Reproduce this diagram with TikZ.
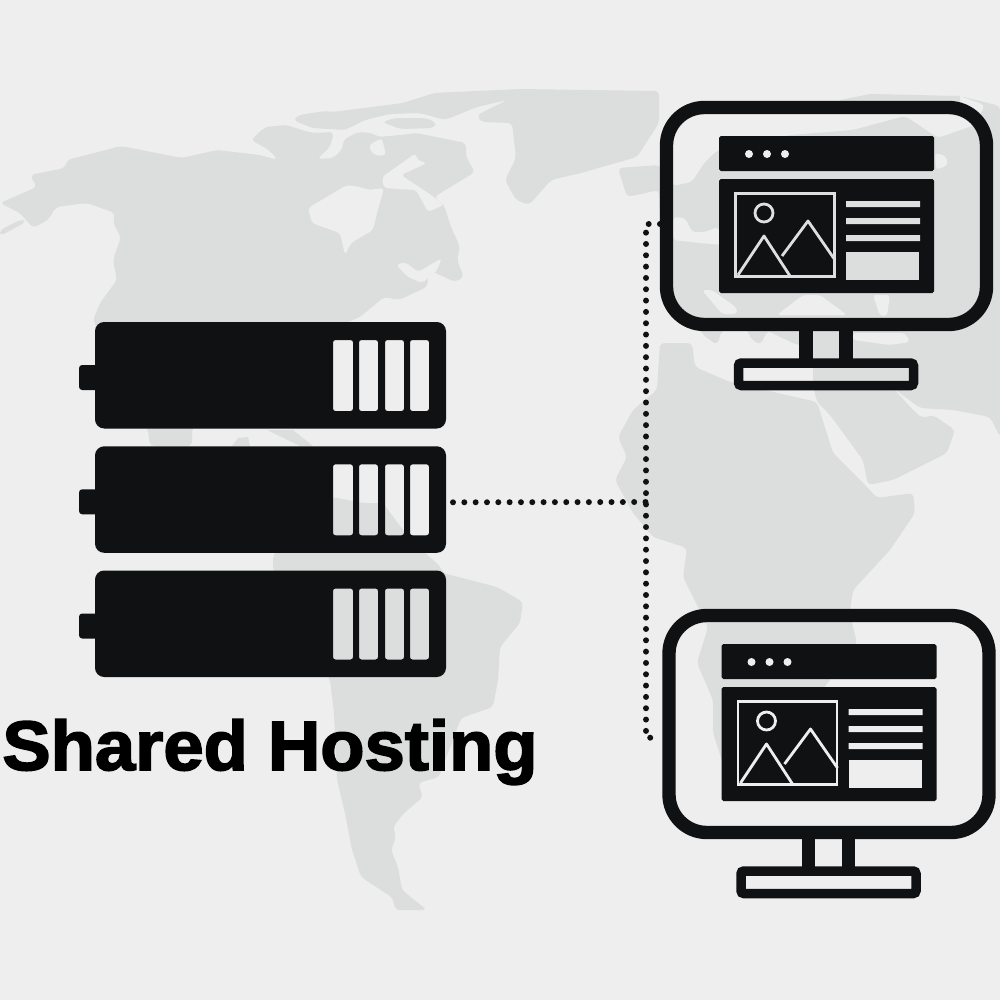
\documentclass[tikz,border=0pt]{standalone}
\usepackage{fontspec}
\setmainfont{Liberation Sans}
\newfontfamily\titlefont[FakeStretch=1.035,FakeBold=2.4]{Liberation Sans Bold}
\definecolor{seabg}{HTML}{EEEEEE}
\definecolor{land}{HTML}{DCDDDD}
\definecolor{ink}{HTML}{0F1113}
\definecolor{frameone}{HTML}{DEDFDF}
\tikzset{
  x=0.01cm,y=-0.01cm,
  landmass/.style={fill=land,rounded corners=1.2pt},
  sea/.style={fill=seabg,rounded corners=1pt},
  dotline/.style={draw=ink,line width=1.7pt,line cap=round,dash pattern=on 0pt off 3.22pt},
  pics/rack/.style={code={
    \fill[ink,rounded corners=0.9pt] (79,365) rectangle (100,390);
    \fill[ink,even odd rule,rounded corners=2.6pt] (95,322) rectangle (446,428.5)
      [rounded corners=0.7pt]
      (333,340) rectangle (353,411) (359,340) rectangle (378,411)
      (385,340) rectangle (404,411) (410,340) rectangle (429,411);
    \coordinate (-port) at (453,378);
  }},
  pics/monitor/.style n args={3}{code={
    \draw[ink,line width=3.8pt,rounded corners=10.8pt] (666.5,107.5) rectangle (986.5,324.5);
    \draw[ink,line width=3.9pt] (806,330) -- (806,360) (846,330) -- (846,360);
    \draw[ink,line width=2.7pt,rounded corners=0.8pt] (738.5,363) rectangle (913.5,385.5);
    \fill[ink,rounded corners=0.5pt] (719,136) rectangle (934,171);
    \fill[ink,rounded corners=0.5pt] (719,179) rectangle (934,293);
    \fill[#3] (749,154) circle[radius=4] (767,154) circle[radius=4] (785,154) circle[radius=4];
    \draw[#1,line width=0.8pt] (735.5,193.5) rectangle (834.5,276.5);
    \draw[#1,line width=0.8pt] (764,213) circle[radius=9];
    \draw[#1,line width=0.8pt,line join=round] (738,275) -- (764,236) -- (790,276);
    \draw[#1,line width=0.8pt,line join=round] (782,256) -- (808,221) -- (835,260);
    \fill[#1] (846,201) rectangle (920,207) (846,218) rectangle (920,224) (846,235) rectangle (920,241);
    \fill[#2] (846,252) rectangle (919,280);
  }}
}
\begin{document}
\begin{tikzpicture}
\useasboundingbox (0,0) rectangle (1000,1000);
\fill[seabg] (0,0) rectangle (1000,1000);
% North America
\fill[landmass] (0,203) -- (37,187) -- (30,175) -- (65,168) -- (67,160) -- (121,146) -- (182,158) -- (217,150) -- (260,155) -- (278,160) -- (269,150) -- (251,140) -- (265,127) -- (286,125) -- (312,133) -- (334,132) -- (330,147) -- (317,159) -- (334,158) -- (343,148) -- (343,140) -- (358,132) -- (372,133) -- (378,137) -- (400,135) -- (416,133) -- (466,143) -- (466,157) -- (475,172) -- (434,197) -- (444,205) -- (451,227) -- (460,247) -- (457,260) -- (464,277) -- (455,282) -- (429,270) -- (427,287) -- (399,300) -- (384,297) -- (360,317) -- (330,330) -- (192,428) -- (192,446) -- (150,446) -- (148,430) -- (93,320) -- (100,303) -- (117,280) -- (113,260) -- (121,237) -- (113,223) -- (115,213) -- (87,203) -- (56,207) -- (48,220) -- (33,228) -- (20,213) -- cycle;
\fill[landmass] (0,230) -- (22,219) -- (26,222) -- (0,236) -- cycle;
\fill[sea] (308,208) -- (347,185) -- (360,187) -- (369,190) -- (384,188) -- (377,213) -- (373,230) -- (351,243) -- (345,255) -- (340,233) -- (312,223) -- cycle;
\fill[sea] (416,153) -- (382,177) -- (384,188) -- (416,190) -- (428,212) -- (444,205) -- (434,197) -- (401,175) -- (427,163) -- (417,160) -- cycle;
\fill[sea] (369,145) -- (382,138) -- (384,147) -- (386,155) -- (377,156) -- (371,152) -- cycle;
\fill[sea] (104,240) -- (121,236) -- (112,252) -- (104,250) -- cycle;
\fill[sea] (396,265) -- (405,262) -- (418,272) -- (442,258) -- (436,272) -- (422,283) -- (408,277) -- cycle;
% Arctic islands and Greenland
\fill[landmass] (293,120) -- (299,115) -- (325,111) -- (333,112) -- (403,103) -- (434,93) -- (520,89) -- (659,91) -- (659,123) -- (637,157) -- (581,173) -- (551,180) -- (529,205) -- (516,200) -- (505,180) -- (516,158) -- (512,123) -- (481,122) -- (477,115) -- (507,100) -- (477,107) -- (445,120) -- (420,113) -- (390,114) -- (365,120) -- (345,130) -- (312,128) -- cycle;
\fill[landmass] (382,122) -- (395,118) -- (425,118) -- (436,122) -- (434,128) -- (400,129) -- cycle;
% Caribbean patches
\fill[land] (232,446) -- (238,438) -- (248,437) -- (250,446) -- cycle;
\fill[land] (267,430) -- (293,430) -- (313,446) -- (300,446) -- cycle;
% South America
\fill[landmass] (333,497) -- (363,503) -- (383,503) -- (403,530) -- (425,553) -- (440,566) -- (443,573) -- (497,587) -- (523,602) -- (520,623) -- (500,647) -- (498,680) -- (493,707) -- (461,718) -- (439,777) -- (418,783) -- (423,797) -- (404,813) -- (393,827) -- (396,837) -- (391,850) -- (398,867) -- (402,890) -- (427,910) -- (395,910) -- (393,898) -- (361,877) -- (352,850) -- (345,813) -- (337,780) -- (334,713) -- (330,680) -- (273,570) -- (273,555) -- (320,500) -- cycle;
% Africa
\fill[landmass] (660,343) -- (692,343) -- (695,367) -- (730,382) -- (817,402) -- (833,453) -- (867,487) -- (877,498) -- (913,493) -- (915,513) -- (890,550) -- (853,590) -- (850,610) -- (853,627) -- (857,643) -- (800,720) -- (725,770) -- (713,733) -- (713,700) -- (697,663) -- (708,627) -- (698,607) -- (683,577) -- (687,548) -- (653,537) -- (633,513) -- (615,480) -- (627,457) -- (618,437) -- (633,410) -- (657,390) -- cycle;
% Eurasia and Arabia
\fill[landmass] (618,168) -- (659,165) -- (673,186) -- (692,182) -- (705,162) -- (718,150) -- (790,135) -- (853,130) -- (905,116) -- (938,138) -- (975,125) -- (985,105) -- (960,96) -- (1000,106) -- (1000,437) -- (990,417) -- (953,410) -- (920,408) -- (893,388) -- (913,410) -- (922,418) -- (933,415) -- (955,430) -- (947,453) -- (893,480) -- (868,485) -- (863,460) -- (830,415) -- (817,402) -- (813,385) -- (813,358) -- (805,345) -- (797,345) -- (772,333) -- (768,330) -- (760,345) -- (750,338) -- (748,330) -- (722,330) -- (717,345) -- (703,335) -- (700,328) -- (672,318) -- (662,300) -- (659,190) -- (627,197) -- cycle;
\fill[land] (840,100) -- (870,94) -- (960,96) -- (960,110) -- (840,110) -- cycle;
% Inland seas
\fill[sea] (673,217) -- (685,218) -- (692,232) -- (705,232) -- (718,227) -- (725,245) -- (700,243) -- (673,240) -- cycle;
\fill[sea] (702,290) -- (712,290) -- (737,308) -- (737,314) -- (722,314) -- cycle;
\fill[sea] (777,315) -- (803,295) -- (820,295) -- (847,315) -- cycle;
\fill[sea] (873,295) -- (890,295) -- (887,316) -- (880,316) -- cycle;
\fill[sea] (853,333) -- (905,333) -- (910,342) -- (890,345) -- (853,340) -- cycle;
\fill[sea] (935,153) -- (946,156) -- (948,165) -- (936,170) -- cycle;
% Connectors
\coordinate (junction) at (646,502);
\coordinate (busTop) at (646,224);
\coordinate (busBot) at (646,738);
\coordinate (mon1port) at (660,224);
\coordinate (mon2port) at (660,737);
\pic (rack1) at (0,0) {rack};
\pic (rack2) at (0,124.3) {rack};
\pic (rack3) at (0,248.5) {rack};
\draw[dotline] (rack2-port) -- (junction);
\draw[dotline] (mon1port) -- (busTop) -- (busBot) -- (mon2port);
\pic (mon1) at (0,0) {monitor={frameone}{land}{seabg}};
\pic (mon2) at (2.5,508) {monitor={seabg}{seabg}{seabg}};
\node[anchor=base,inner sep=0pt,text=black] (title) at (270,770) {\titlefont\fontsize{19.9}{24}\selectfont Shared Hosting};
\end{tikzpicture}
\end{document}
